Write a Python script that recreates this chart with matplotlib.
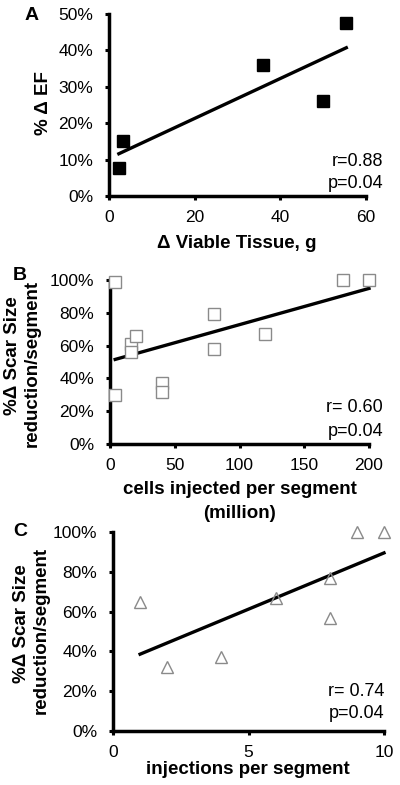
import numpy as np
import matplotlib
matplotlib.use("Agg")
import matplotlib.pyplot as plt
from matplotlib.ticker import PercentFormatter

plt.rcParams['font.family'] = ['Liberation Sans', 'DejaVu Sans']

# Panel A data
a_x = [2.3, 3.2, 36.0, 50.0, 55.4]
a_y = [7.7, 15.1, 36.0, 26.0, 47.5]
# Panel B data
b_x = [4, 4, 16, 16, 20, 40, 40, 80, 80, 120, 180, 200]
b_y = [99, 30, 61, 56, 66, 37, 32, 79, 58, 67, 100, 100]
# Panel C data
c_x = [1, 2, 4, 6, 8, 8, 9, 10]
c_y = [65, 32, 37, 67, 77, 57, 100, 100]

a_xticks = [0, 20, 40, 60]
a_yticks = [0, 10, 20, 30, 40, 50]
b_xticks = [0, 50, 100, 150, 200]
b_yticks = [0, 20, 40, 60, 80, 100]
c_xticks = [0, 5, 10]
c_yticks = [0, 20, 40, 60, 80, 100]

W, H = 400, 785
fig = plt.figure(figsize=(W / 100, H / 100), dpi=100)


def ax_px(l, r, t, b):
    return fig.add_axes([l / W, (H - b) / H, (r - l) / W, (b - t) / H])


def txt(x, y, s, **kw):
    fig.text(x / W, (H - y) / H, s, **kw)


TICK = 12.5
LAB = 13.5


def style(ax, xticks, yticks):
    for sp in ['top', 'right']:
        ax.spines[sp].set_visible(False)
    for sp in ['left', 'bottom']:
        ax.spines[sp].set_linewidth(2.5)
    ax.set_xticks(xticks)
    ax.set_yticks(yticks)
    ax.set_xlim(xticks[0], xticks[-1])
    ax.set_ylim(yticks[0], yticks[-1])
    ax.yaxis.set_major_formatter(PercentFormatter(xmax=100, decimals=0))
    ax.tick_params(axis='both', direction='out', length=3, width=2.2,
                   labelsize=TICK, colors='black')
    ax.tick_params(axis='y', pad=8.5)
    ax.tick_params(axis='x', pad=7)
    ax.patch.set_alpha(0)


def fitline(ax, x, y):
    x = np.asarray(x, float)
    y = np.asarray(y, float)
    k, c = np.polyfit(x, y, 1)
    xs = np.array([x.min(), x.max()])
    ax.plot(xs, k * xs + c, color='black', lw=2.4, zorder=2, clip_on=False)


# Panel A
axA = ax_px(109, 366, 14, 196)
style(axA, a_xticks, a_yticks)
fitline(axA, a_x, a_y)
axA.plot(a_x, a_y, 's', color='black', markersize=8, zorder=5, clip_on=False)

# Panel B
axB = ax_px(110, 369, 280, 444)
style(axB, b_xticks, b_yticks)
fitline(axB, b_x, b_y)
axB.plot(b_x, b_y, 's', markerfacecolor='white', markeredgecolor='#8a8a8a',
         markeredgewidth=1.0, markersize=8.6, linestyle='none', zorder=5, clip_on=False)

# Panel C
axC = ax_px(113, 384, 532, 731)
style(axC, c_xticks, c_yticks)
fitline(axC, c_x, c_y)
axC.plot(c_x, c_y, '^', markerfacecolor='none', markeredgecolor='#8a8a8a',
         markeredgewidth=1.0, markersize=8.5, linestyle='none', zorder=5, clip_on=False)

# Panel letters
txt(32, 15, 'A', fontsize=14, fontweight='bold', ha='center', va='center')
txt(20, 275, 'B', fontsize=14, fontweight='bold', ha='center', va='center')
txt(20, 532, 'C', fontsize=14, fontweight='bold', ha='center', va='center')

# Y labels
txt(43, 103, '% Δ EF', fontsize=LAB, fontweight='bold', rotation=90, ha='center', va='center')
txt(13, 356, '%Δ Scar Size', fontsize=LAB, fontweight='bold', rotation=90, ha='center', va='center')
txt(32, 363, 'reduction/segment', fontsize=LAB, fontweight='bold', rotation=90, ha='center', va='center')
txt(22, 624, '%Δ Scar Size', fontsize=LAB, fontweight='bold', rotation=90, ha='center', va='center')
txt(41, 630, 'reduction/segment', fontsize=LAB, fontweight='bold', rotation=90, ha='center', va='center')

# X labels
txt(237, 243, 'Δ Viable Tissue, g', fontsize=LAB, fontweight='bold', ha='center', va='center')
txt(240, 490, 'cells injected per segment', fontsize=LAB, fontweight='bold', ha='center', va='center')
txt(240, 513, '(million)', fontsize=LAB, fontweight='bold', ha='center', va='center')
txt(248, 770, 'injections per segment', fontsize=LAB, fontweight='bold', ha='center', va='center')

# Stats
txt(383, 162, 'r=0.88', fontsize=13, ha='right', va='center')
txt(383, 183, 'p=0.04', fontsize=13, ha='right', va='center')
txt(383, 408, 'r= 0.60', fontsize=13, ha='right', va='center')
txt(383, 431, 'p=0.04', fontsize=13, ha='right', va='center')
txt(384, 692, 'r= 0.74', fontsize=13, ha='right', va='center')
txt(384, 713, 'p=0.04', fontsize=13, ha='right', va='center')

fig.savefig('out.png', dpi=100)
